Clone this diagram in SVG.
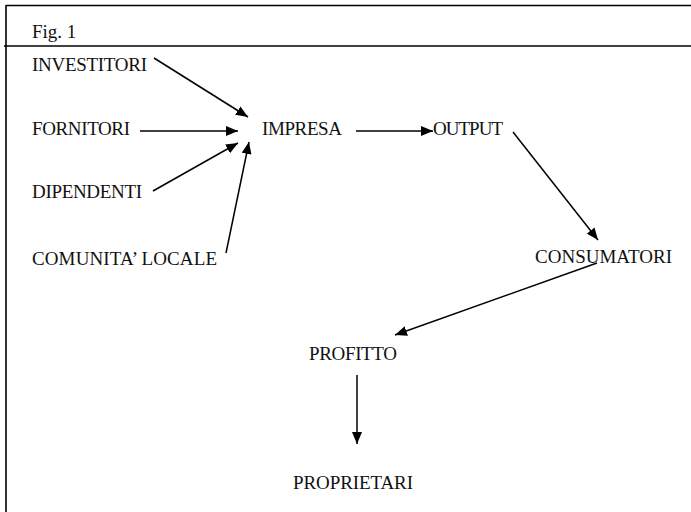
<svg xmlns="http://www.w3.org/2000/svg" width="691" height="512" viewBox="0 0 691 512">
<defs>
<style>
text{font-family:"Liberation Serif","Times New Roman",serif;font-size:19px;fill:#111}
.frame{stroke:#000;stroke-width:1.6;fill:none}
.conn line{stroke:#000;stroke-width:1.5;marker-end:url(#ah)}
</style>
<marker id="ah" markerUnits="userSpaceOnUse" markerWidth="12" markerHeight="10" refX="12" refY="5" orient="auto">
<path d="M0,0 L12,5 L0,10 z" fill="#000"/>
</marker>
</defs>
<rect width="691" height="512" fill="#fff"/>
<g id="frame">
<line class="frame" x1="6" y1="5.5" x2="691" y2="5.5"/>
<line class="frame" x1="6" y1="5" x2="6" y2="512"/>
<line class="frame" x1="4" y1="46" x2="691" y2="46"/>
<text x="32" y="38" font-size="18">Fig. 1</text>
</g>
<g id="investitori"><text x="32" y="71" textLength="115">INVESTITORI</text></g>
<g id="fornitori"><text x="32" y="135" textLength="98">FORNITORI</text></g>
<g id="dipendenti"><text x="32" y="198" textLength="110">DIPENDENTI</text></g>
<g id="comunita"><text x="32" y="265" textLength="185">COMUNITA’ LOCALE</text></g>
<g id="impresa"><text x="262" y="135" textLength="80">IMPRESA</text></g>
<g id="output"><text x="433" y="135" textLength="70">OUTPUT</text></g>
<g id="consumatori"><text x="535" y="263" textLength="137">CONSUMATORI</text></g>
<g id="profitto"><text x="309" y="360" textLength="88">PROFITTO</text></g>
<g id="proprietari"><text x="293" y="489" textLength="120">PROPRIETARI</text></g>
<g id="connectors" class="conn">
<line x1="154" y1="58" x2="248" y2="117"/>
<line x1="140" y1="131" x2="238" y2="131"/>
<line x1="153" y1="191" x2="238" y2="143"/>
<line x1="226" y1="253" x2="249" y2="142"/>
<line x1="356" y1="131" x2="433" y2="131"/>
<line x1="513" y1="132" x2="598" y2="240"/>
<line x1="597" y1="263" x2="395" y2="335"/>
<line x1="357" y1="375" x2="357" y2="444"/>
</g>
</svg>
